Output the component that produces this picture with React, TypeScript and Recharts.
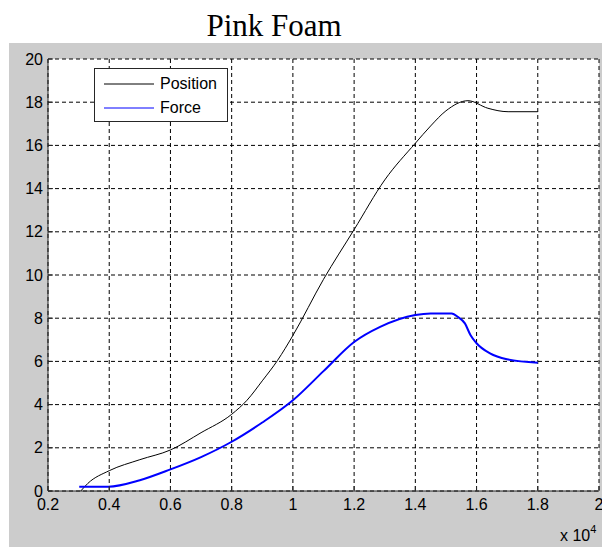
import React from 'react';
import { LineChart, Line, XAxis, YAxis, CartesianGrid, Legend } from 'recharts';

// x values are in raw units (axis shows them x 10^4)
const positionX = [3070, 3300, 4000, 5000, 6000, 7000, 8000, 8500, 9000, 9500, 10000, 11000, 12000, 13000, 14000, 14500, 15000, 15720, 16370, 17030, 18000];
const positionY = [0, 0.35, 0.94, 1.45, 1.9, 2.7, 3.55, 4.2, 5.1, 6.05, 7.2, 9.8, 12.1, 14.4, 16.1, 16.9, 17.6, 18.07, 17.72, 17.56, 17.56];

const forceX = [3020, 3970, 5000, 6000, 7000, 8000, 9000, 10000, 11000, 12000, 12850, 14000, 14500, 15190, 15400, 15620, 15800, 16000, 16440, 16990, 18000];
const forceY = [0.2, 0.2, 0.5, 1.0, 1.57, 2.28, 3.17, 4.2, 5.55, 6.9, 7.6, 8.15, 8.22, 8.22, 8.05, 7.76, 7.22, 6.84, 6.37, 6.1, 5.94];

const seriesNames = ['Position', 'Force'];

const xTicks = [2000, 4000, 6000, 8000, 10000, 12000, 14000, 16000, 18000, 20000];
const yTicks = [0, 2, 4, 6, 8, 10, 12, 14, 16, 18, 20];

const positionData = positionX.map((x, i) => ({ x, y: positionY[i] }));
const forceData = forceX.map((x, i) => ({ x, y: forceY[i] }));

const FONT = '"Liberation Sans", Arial, sans-serif';
const tickStyle = { fill: '#000', fontSize: 16, fontFamily: FONT };
const frame = '#262626';

const LegendBox = (props: any) => {
  const items = [...(props.payload || [])].sort(
    (a: any, b: any) => seriesNames.indexOf(a.value) - seriesNames.indexOf(b.value)
  );
  return (
    <div
      style={{
        width: 134,
        height: 54,
        boxSizing: 'border-box',
        border: `1px solid ${frame}`,
        background: '#fff',
        paddingTop: 3,
        paddingLeft: 9,
      }}
    >
      {items.map((item: any) => (
        <div key={item.value} style={{ display: 'flex', alignItems: 'center', height: 24 }}>
          <svg width={50} height={4} style={{ display: 'block' }}>
            <line x1={0} y1={2} x2={50} y2={2} stroke={item.color} strokeWidth={1} />
          </svg>
          <span style={{ marginLeft: 6, fontFamily: FONT, fontSize: 16, color: '#000' }}>{item.value}</span>
        </div>
      ))}
    </div>
  );
};

export default function App() {
  return (
    <div style={{ position: 'absolute', left: 0, top: 0, width: 602, height: 547, background: '#fff' }}>
      <div style={{ position: 'absolute', left: 9, top: 43, width: 593, height: 504, background: '#cccccc' }} />
      <div
        style={{
          position: 'absolute',
          left: 174,
          width: 200,
          top: 8,
          textAlign: 'center',
          fontFamily: '"Liberation Serif", "Times New Roman", serif',
          fontSize: 31,
          lineHeight: '36px',
          color: '#000',
        }}
      >
        Pink Foam
      </div>
      <div style={{ position: 'absolute', left: 0, top: 0 }}>
        <LineChart width={602} height={547} margin={{ top: 59, right: 3, bottom: 16, left: 8 }}>
          <CartesianGrid fill="#fff" stroke="#000" strokeDasharray="4 3" />
          <XAxis
            type="number"
            dataKey="x"
            domain={[2000, 20000]}
            ticks={xTicks}
            interval={0}
            allowDataOverflow
            height={40}
            tickFormatter={(v: number) => String(v / 10000)}
            tick={tickStyle}
            tickSize={-5}
            tickMargin={13}
            stroke={frame}
          />
          <XAxis
            xAxisId="top"
            orientation="top"
            type="number"
            dataKey="x"
            domain={[2000, 20000]}
            ticks={xTicks}
            interval={0}
            allowDataOverflow
            height={0}
            tick={false}
            tickSize={-5}
            stroke={frame}
          />
          <YAxis
            type="number"
            domain={[0, 20]}
            ticks={yTicks}
            interval={0}
            allowDataOverflow
            width={40}
            tick={tickStyle}
            tickSize={-5}
            tickMargin={10}
            stroke={frame}
          />
          <YAxis
            yAxisId="right"
            orientation="right"
            type="number"
            domain={[0, 20]}
            ticks={yTicks}
            interval={0}
            allowDataOverflow
            width={0}
            tick={false}
            tickSize={-5}
            stroke={frame}
          />
          <Legend
            layout="vertical"
            align="center"
            verticalAlign="middle"
            content={<LegendBox />}
            wrapperStyle={{ left: 94, top: 68, width: 134 }}
          />
          <Line
            data={positionData}
            dataKey="y"
            name={seriesNames[0]}
            type="monotone"
            stroke="#000"
            strokeWidth={1}
            dot={false}
            isAnimationActive={false}
          />
          <Line
            data={forceData}
            dataKey="y"
            name={seriesNames[1]}
            type="monotone"
            stroke="#0000ff"
            strokeWidth={2}
            dot={false}
            isAnimationActive={false}
          />
        </LineChart>
      </div>
      <div style={{ position: 'absolute', left: 560, top: 525, fontFamily: FONT, fontSize: 16, color: '#000', whiteSpace: 'nowrap' }}>
        x 10<sup style={{ fontSize: 11, position: 'relative', top: -2 }}>4</sup>
      </div>
    </div>
  );
}
